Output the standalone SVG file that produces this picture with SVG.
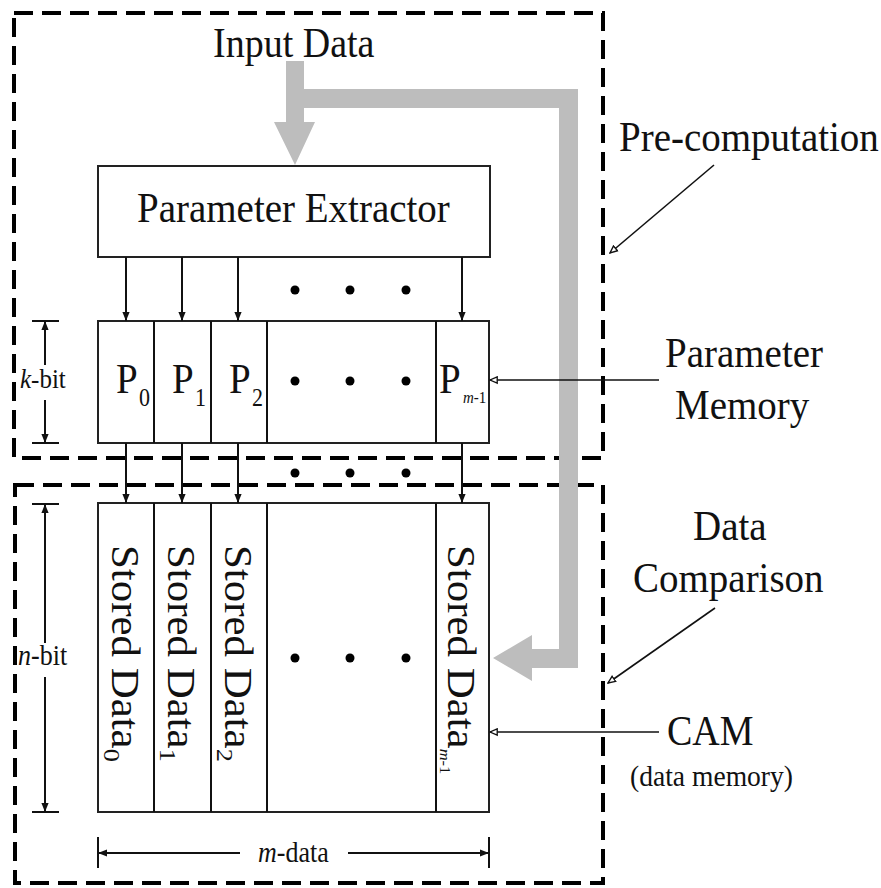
<svg xmlns="http://www.w3.org/2000/svg" width="881" height="888" viewBox="0 0 881 888">
<defs>
<style>
.t{font-family:"Liberation Serif","Times New Roman",serif;fill:#111}
.dash{fill:none;stroke:#000;stroke-width:4;stroke-dasharray:19 9}
.box{fill:#fff;stroke:#222;stroke-width:2}
.ln{fill:none;stroke:#111;stroke-width:2}
.thin{fill:none;stroke:#111;stroke-width:1.6}
.dot{fill:#000}
</style>
<marker id="ah" viewBox="0 0 10 10" refX="10" refY="5" markerWidth="9" markerHeight="9" markerUnits="userSpaceOnUse" orient="auto">
<path d="M0,1 L10,5 L0,9 Z" fill="#111"/>
</marker>
<marker id="hollow" viewBox="0 0 10 10" refX="9" refY="5" markerWidth="9" markerHeight="9" markerUnits="userSpaceOnUse" orient="auto">
<path d="M1,1.5 L9,5 L1,8.5 Z" fill="#fff" stroke="#111" stroke-width="1.5"/>
</marker>
</defs>
<rect width="881" height="888" fill="#fff"/>

<g id="precomputation-box"><rect class="dash" x="14" y="13" width="589" height="445"/></g>
<g id="comparison-box"><rect class="dash" x="15" y="485" width="588" height="398"/></g>

<g id="input-flow">
<path d="M286,61 L304,61 L304,89 L578,89 L578,668 L532,668 L532,681 L493,658 L532,635 L532,649 L559,649 L559,108 L304,108 L304,122 L315,122 L295,165 L274,122 L286,122 Z" fill="#bdbdbd"/>
</g>

<g id="parameter-extractor">
<rect class="box" x="98" y="166" width="392" height="91"/>
<text class="t" font-size="39" transform="translate(137,222) scale(1,1.1)">Parameter Extractor</text>
</g>

<g id="parameter-memory">
<rect class="box" x="98" y="321" width="391" height="122"/>
<path class="ln" d="M154,321V443M211,321V443M267,321V443M436,321V443"/>
<text class="t" font-size="39" transform="translate(116,393) scale(1,1.1)">P</text>
<text class="t" font-size="22" transform="translate(139,406) scale(1,1.1)">0</text>
<text class="t" font-size="39" transform="translate(172,393) scale(1,1.1)">P</text>
<text class="t" font-size="22" transform="translate(195,406) scale(1,1.1)">1</text>
<text class="t" font-size="39" transform="translate(229,393) scale(1,1.1)">P</text>
<text class="t" font-size="22" transform="translate(252,406) scale(1,1.1)">2</text>
<text class="t" font-size="39" transform="translate(439,393) scale(1,1.1)">P</text>
<text class="t" font-size="15" transform="translate(463,403) scale(1,1.1)"><tspan font-style="italic">m</tspan>-1</text>
<circle class="dot" cx="295" cy="381" r="4.5"/><circle class="dot" cx="350" cy="381" r="4.5"/><circle class="dot" cx="406" cy="381" r="4.5"/>
</g>

<g id="cam">
<rect class="box" x="98" y="503" width="391" height="309"/>
<path class="ln" d="M154,503V812M211,503V812M267,503V812M436,503V812"/>
<text class="t" font-size="39" transform="translate(112,545) rotate(90) scale(1.1,1)">Stored Data<tspan font-size="24" dy="8">0</tspan></text>
<text class="t" font-size="39" transform="translate(168,545) rotate(90) scale(1.1,1)">Stored Data<tspan font-size="24" dy="8">1</tspan></text>
<text class="t" font-size="39" transform="translate(225,545) rotate(90) scale(1.1,1)">Stored Data<tspan font-size="24" dy="8">2</tspan></text>
<text class="t" font-size="39" transform="translate(448,545) rotate(90) scale(1.1,1)">Stored Data<tspan font-size="15" dy="8"><tspan font-style="italic">m</tspan>-1</tspan></text>
<circle class="dot" cx="295" cy="658" r="4.5"/><circle class="dot" cx="350" cy="658" r="4.5"/><circle class="dot" cx="406" cy="658" r="4.5"/>
</g>

<g id="connectors">
<path class="ln" marker-end="url(#ah)" d="M126,257V321"/>
<path class="ln" marker-end="url(#ah)" d="M182,257V321"/>
<path class="ln" marker-end="url(#ah)" d="M238,257V321"/>
<path class="ln" marker-end="url(#ah)" d="M462,257V321"/>
<path class="ln" marker-end="url(#ah)" d="M126,443V503"/>
<path class="ln" marker-end="url(#ah)" d="M182,443V503"/>
<path class="ln" marker-end="url(#ah)" d="M238,443V503"/>
<path class="ln" marker-end="url(#ah)" d="M462,443V503"/>
<path class="thin" marker-end="url(#hollow)" d="M714,165L610,253"/>
<path class="thin" marker-end="url(#hollow)" d="M659,380H490"/>
<path class="thin" marker-end="url(#hollow)" d="M715,608L608,683"/>
<path class="thin" marker-end="url(#hollow)" d="M659,732H490"/>
</g>

<g id="dots-between">
<circle class="dot" cx="295" cy="290" r="4.5"/><circle class="dot" cx="350" cy="290" r="4.5"/><circle class="dot" cx="406" cy="290" r="4.5"/>
<circle class="dot" cx="295" cy="473" r="4.5"/><circle class="dot" cx="350" cy="473" r="4.5"/><circle class="dot" cx="406" cy="473" r="4.5"/>
</g>

<g id="dimensions">
<path class="ln" d="M32,321H59M32,443H59M32,504H59M32,812H59M98,837V868M489,837V868"/>
<path class="ln" marker-end="url(#ah)" d="M45,365V321"/>
<path class="ln" marker-end="url(#ah)" d="M45,400V443"/>
<path class="ln" marker-end="url(#ah)" d="M45,643V504"/>
<path class="ln" marker-end="url(#ah)" d="M45,677V812"/>
<path class="ln" marker-end="url(#ah)" d="M240,853H98"/>
<path class="ln" marker-end="url(#ah)" d="M348,853H489"/>
<text class="t" font-size="25" transform="translate(20,388) scale(1,1.1)"><tspan font-style="italic">k</tspan>-bit</text>
<text class="t" font-size="26" transform="translate(18,665) scale(1,1.1)"><tspan font-style="italic">n</tspan>-bit</text>
<text class="t" font-size="26" transform="translate(258,862) scale(1,1.1)"><tspan font-style="italic">m</tspan>-data</text>
</g>

<g id="labels">
<text class="t" font-size="38" transform="translate(213,57) scale(1,1.1)">Input Data</text>
<text class="t" font-size="39" transform="translate(619,151) scale(1,1.1)">Pre-computation</text>
<text class="t" font-size="39" transform="translate(665,367) scale(1,1.1)">Parameter</text>
<text class="t" font-size="39" transform="translate(675,419) scale(1,1.1)">Memory</text>
<text class="t" font-size="39" transform="translate(693,540) scale(1,1.1)">Data</text>
<text class="t" font-size="39" transform="translate(633,592) scale(1,1.1)">Comparison</text>
<text class="t" font-size="38" transform="translate(667,745) scale(1,1.1)">CAM</text>
<text class="t" font-size="26" transform="translate(630,786) scale(1,1.1)" textLength="163" lengthAdjust="spacingAndGlyphs">(data memory)</text>
</g>
</svg>
